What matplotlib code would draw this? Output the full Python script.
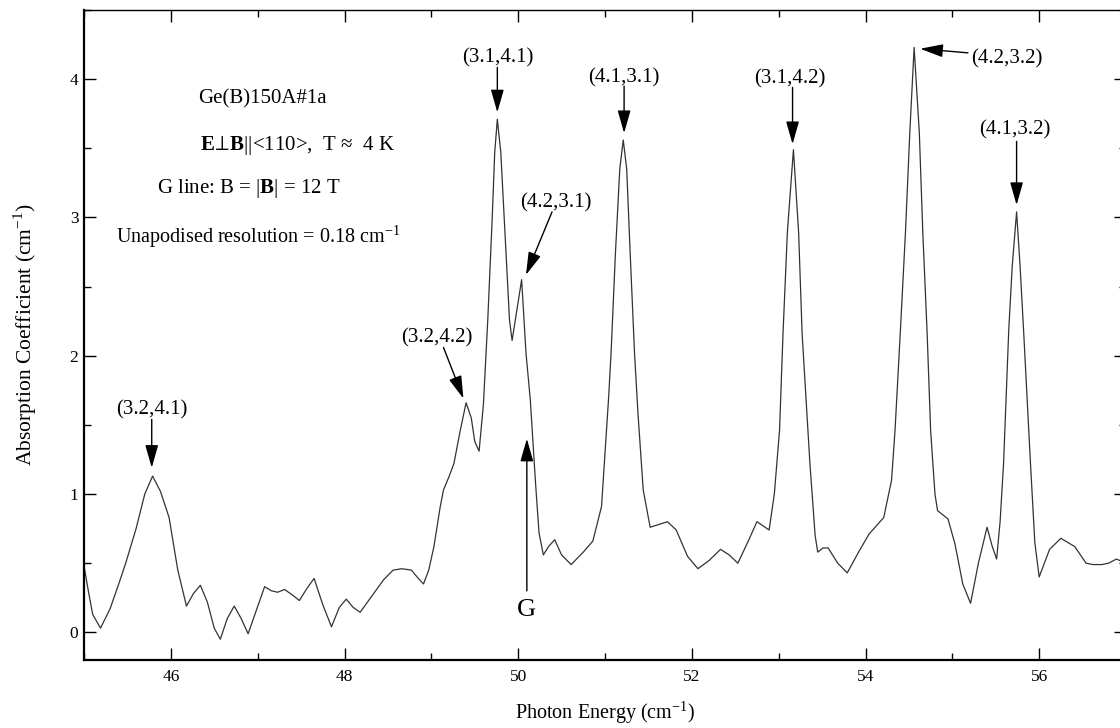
import matplotlib
matplotlib.use("Agg")
import matplotlib.pyplot as plt
from matplotlib.ticker import MultipleLocator

plt.rcParams['font.family'] = ['Liberation Serif', 'DejaVu Serif']
plt.rcParams['mathtext.fontset'] = 'custom'
plt.rcParams['mathtext.rm'] = 'Liberation Serif'
plt.rcParams['mathtext.bf'] = 'Liberation Serif:bold'

# spectrum
energy = [45.00, 45.05, 45.10, 45.19, 45.30, 45.40, 45.48, 45.60, 45.70, 45.79,
          45.88, 45.98, 46.08, 46.18, 46.26, 46.34, 46.42, 46.50, 46.57, 46.65,
          46.73, 46.81, 46.89, 46.98, 47.08, 47.16, 47.23, 47.31, 47.40, 47.48,
          47.57, 47.65, 47.75, 47.85, 47.94, 48.02, 48.10, 48.18, 48.30, 48.45,
          48.56, 48.66, 48.77, 48.85, 48.91, 48.97, 49.03, 49.10, 49.14, 49.20,
          49.26, 49.33, 49.40, 49.46, 49.50, 49.55, 49.60, 49.65, 49.70, 49.73,
          49.76, 49.80, 49.84, 49.90, 49.93, 49.99, 50.04, 50.09, 50.14, 50.20,
          50.24, 50.29, 50.35, 50.42, 50.50, 50.61, 50.75, 50.86, 50.96, 51.04,
          51.07, 51.12, 51.17, 51.21, 51.25, 51.29, 51.34, 51.38, 51.44, 51.52,
          51.62, 51.72, 51.82, 51.95, 52.07, 52.20, 52.33, 52.43, 52.53, 52.65,
          52.75, 52.89, 52.95, 53.01, 53.05, 53.10, 53.17, 53.23, 53.27, 53.36,
          53.42, 53.45, 53.51, 53.57, 53.68, 53.79, 53.92, 54.04, 54.21, 54.30,
          54.34, 54.40, 54.46, 54.51, 54.56, 54.62, 54.66, 54.71, 54.75, 54.80,
          54.83, 54.95, 55.03, 55.12, 55.21, 55.30, 55.40, 55.46, 55.51, 55.55,
          55.59, 55.65, 55.69, 55.74, 55.78, 55.82, 55.90, 55.95, 56.00, 56.12,
          56.25, 56.41, 56.54, 56.62, 56.72, 56.80, 56.89, 57.00]
absorb = [0.48, 0.30, 0.13, 0.03, 0.17, 0.35, 0.50, 0.75, 1.00, 1.13,
          1.02, 0.83, 0.45, 0.19, 0.28, 0.34, 0.22, 0.03, -0.05, 0.10,
          0.19, 0.10, -0.01, 0.15, 0.33, 0.30, 0.29, 0.31, 0.27, 0.23,
          0.32, 0.39, 0.20, 0.04, 0.18, 0.24, 0.18, 0.145, 0.25, 0.38,
          0.45, 0.46, 0.45, 0.39, 0.35, 0.45, 0.62, 0.90, 1.03, 1.12,
          1.22, 1.45, 1.66, 1.55, 1.38, 1.31, 1.65, 2.26, 2.98, 3.47,
          3.71, 3.47, 2.98, 2.26, 2.11, 2.35, 2.55, 2.02, 1.68, 1.08,
          0.72, 0.56, 0.62, 0.67, 0.56, 0.49, 0.58, 0.66, 0.91, 1.68,
          2.02, 2.74, 3.35, 3.56, 3.35, 2.74, 2.02, 1.58, 1.03, 0.76,
          0.78, 0.80, 0.74, 0.55, 0.46, 0.52, 0.60, 0.56, 0.50, 0.66,
          0.80, 0.74, 1.00, 1.46, 2.16, 2.89, 3.49, 2.89, 2.16, 1.22,
          0.70, 0.58, 0.61, 0.61, 0.50, 0.43, 0.58, 0.71, 0.83, 1.10,
          1.46, 2.16, 2.89, 3.61, 4.23, 3.61, 2.89, 2.16, 1.46, 1.00,
          0.88, 0.82, 0.64, 0.35, 0.21, 0.50, 0.76, 0.62, 0.53, 0.80,
          1.22, 2.19, 2.65, 3.04, 2.65, 2.19, 1.22, 0.65, 0.40, 0.60,
          0.68, 0.62, 0.50, 0.49, 0.49, 0.50, 0.53, 0.50]

# line labels: text centre, arrow tail, arrow tip
labels = ['(3.2,4.1)', '(3.2,4.2)', '(3.1,4.1)', '(4.2,3.1)',
          '(4.1,3.1)', '(3.1,4.2)', '(4.2,3.2)', '(4.1,3.2)', 'G']
text_xy = [(45.78, 1.61), (49.06, 2.13), (49.76, 4.155), (50.43, 3.105),
           (51.22, 4.01), (53.13, 4.0), (55.63, 4.15), (55.72, 3.63), (50.10, 0.16)]
tail_xy = [(45.78, 1.54), (49.14, 2.06), (49.76, 4.085), (50.39, 3.04),
           (51.22, 3.95), (53.16, 3.94), (55.18, 4.19), (55.74, 3.55), (50.10, 0.30)]
tip_xy = [(45.78, 1.19), (49.37, 1.69), (49.76, 3.76), (50.09, 2.585),
          (51.22, 3.61), (53.16, 3.53), (54.63, 4.22), (55.74, 3.09), (50.10, 1.40)]

fig = plt.figure(figsize=(11.2, 7.28), dpi=100)
ax = fig.add_axes([84 / 1120, 68 / 728, 1042 / 1120, 650 / 728])

ax.plot(energy, absorb, color='#333333', lw=0.9)

for lab, t, a, b in zip(labels, text_xy, tail_xy, tip_xy):
    ax.annotate('', xy=b, xytext=a,
                arrowprops=dict(arrowstyle='-|>,head_length=0.7,head_width=0.2',
                                mutation_scale=20, color='black', lw=1,
                                shrinkA=0, shrinkB=0))
    size = 19 if lab == 'G' else 15
    ax.text(t[0], t[1], lab, ha='center', va='center', fontsize=size)

ax.text(47.05, 3.86, 'Ge(B)150A#1a', ha='center', va='center', fontsize=15)
ax.text(47.46, 3.52, r'$\mathbf{E}\!\perp\!\mathbf{B}$||<110>,  T ≈  4 K',
        ha='center', va='center', fontsize=15)
ax.text(46.90, 3.21, r'G line: B = |$\mathbf{B}$| = 12 T', ha='center', va='center',
        fontsize=15)
ax.text(47.00, 2.86, r'Unapodised resolution = 0.18 cm$^{-1}$', ha='center',
        va='center', fontsize=14.5)

ax.set_xlim(45, 57)
ax.set_ylim(-0.2, 4.5)
ax.xaxis.set_major_locator(MultipleLocator(2))
ax.xaxis.set_minor_locator(MultipleLocator(1))
ax.yaxis.set_major_locator(MultipleLocator(1))
ax.yaxis.set_minor_locator(MultipleLocator(0.5))
ax.tick_params(which='both', direction='in', top=True, right=True, width=1)
ax.tick_params(which='major', length=8.6, labelsize=12.5)
ax.tick_params(which='minor', length=5)
ax.tick_params(axis='x', pad=6.5)
ax.tick_params(axis='y', pad=4)
for side in ['left', 'bottom']:
    ax.spines[side].set_linewidth(1.6)
for side in ['top', 'right']:
    ax.spines[side].set_linewidth(1.0)

ax.set_xlabel(r'Photon Energy (cm$^{-1}$)', fontsize=14.5, labelpad=10)
ax.set_ylabel(r'Absorption Coefficient (cm$^{-1}$)', fontsize=15.5, labelpad=22)

fig.savefig('out.png', dpi=100)
